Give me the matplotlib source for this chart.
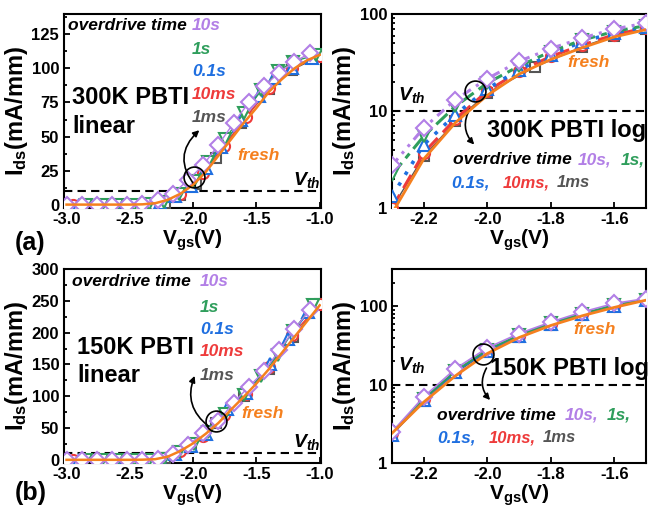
import matplotlib
matplotlib.use("Agg")
import matplotlib.pyplot as plt
from matplotlib.ticker import MultipleLocator, FixedLocator, NullFormatter, LogLocator

plt.rcParams['font.family'] = ['Liberation Sans', 'DejaVu Sans']
plt.rcParams['font.weight'] = 'bold'
plt.rcParams['mathtext.default'] = 'regular'
plt.rcParams['axes.unicode_minus'] = False

W, H = 659, 513

# ---- (a) 300K linear ----
a_lin_10s_x = [-3.0, -2.88, -2.76, -2.64, -2.52, -2.40, -2.28, -2.16, -2.04, -1.92, -1.80, -1.68, -1.56, -1.44, -1.32, -1.20, -1.08]
a_lin_10s_y = [0, 0, 0, 0, 0, 0.5, 3.5, 8, 18, 29, 44, 60, 75, 87, 97, 105, 111]
a_lin_1s_x = [-2.85, -2.72, -2.60, -2.47, -2.35, -2.23, -2.11, -1.99, -1.88, -1.75, -1.60, -1.46, -1.33, -1.21, -1.03]
a_lin_1s_y = [0, 0, 0, 0, 0.3, 2, 8, 17, 31, 48, 67, 84, 98, 105, 110]
a_lin_01s_x = [-2.90, -2.75, -2.62, -2.50, -2.38, -2.26, -2.14, -2.02, -1.90, -1.78, -1.62, -1.48, -1.36, -1.22, -1.06]
a_lin_01s_y = [0, 0, 0, 0, 0.2, 1.5, 6, 14, 27, 42, 62, 80, 93, 100, 108]
a_lin_10ms_x = [-2.95, -2.70, -2.45, -2.32, -2.10, -1.92, -1.76, -1.58, -1.40, -1.22, -1.00]
a_lin_10ms_y = [0, 0, 0, 0.5, 8, 23, 43, 64, 86, 100, 109]
a_lin_1ms_x = [-2.22, -2.10, -1.98, -1.82, -1.62, -1.40, -1.22, -1.00]
a_lin_1ms_y = [1, 7, 15, 34, 60, 85, 99, 109]
a_lin_fresh_x = [-3.0, -2.5, -2.4, -2.3, -2.2, -2.1, -2.0, -1.9, -1.8, -1.7, -1.6, -1.5, -1.4, -1.3, -1.2, -1.1, -1.0]
a_lin_fresh_y = [0, 0, 0.2, 1, 3.5, 8, 14.5, 24, 36, 48, 60, 71, 83, 92, 100, 106, 110]

# ---- (a) 300K log ----
a_log_x = [-2.3, -2.2, -2.1, -2.0, -1.9, -1.8, -1.7, -1.6, -1.5]
a_log_10s = [2.75, 6.7, 13.1, 21.5, 32.5, 44, 56.6, 70, 80.7]
a_log_1s = [2.2, 5.5, 11.2, 19.4, 29, 41, 54, 66, 76]
a_log_01s = [1.32, 4.5, 9.2, 16.9, 26.7, 38, 52, 64, 73.5]
a_log_10ms = [1.0, 3.7, 8.3, 16, 25.6, 36.5, 48, 61, 72]
a_log_1ms_x = [-2.3, -2.2, -2.1, -2.0, -1.85, -1.7, -1.6, -1.5]
a_log_1ms = [1.0, 3.4, 7.8, 15.3, 28.4, 46, 60, 70]
a_log_fresh_x = [-2.29, -2.2, -2.1, -2.0, -1.9, -1.8, -1.7, -1.6, -1.5]
a_log_fresh = [1.0, 3.2, 7.6, 14.5, 24, 34, 45, 58, 69]

# ---- (b) 150K linear ----
b_lin_10s_x = [-3.0, -2.88, -2.76, -2.64, -2.52, -2.40, -2.28, -2.16, -2.04, -1.92, -1.80, -1.68, -1.56, -1.44, -1.32, -1.20, -1.08]
b_lin_10s_y = [0, 0, 0, 0, 0, 0, 2, 9, 23, 42, 61, 90, 115, 139, 172, 205, 236]
b_lin_1s_x = [-2.85, -2.72, -2.60, -2.47, -2.35, -2.23, -2.11, -1.99, -1.88, -1.75, -1.60, -1.46, -1.33, -1.21, -1.05]
b_lin_1s_y = [0, 0, 0, 0, 0, 2, 12, 25, 44, 72, 102, 132, 165, 203, 244]
b_lin_01s_x = [-2.90, -2.75, -2.62, -2.50, -2.38, -2.26, -2.14, -2.02, -1.90, -1.73, -1.58, -1.39, -1.25, -1.09]
b_lin_01s_y = [0, 0, 0, 0, 0, 1.5, 9, 22, 41, 80, 105, 150, 190, 232]
b_lin_10ms_x = [-2.95, -2.70, -2.45, -2.32, -2.10, -1.92, -1.76, -1.58, -1.40, -1.22, -1.00]
b_lin_10ms_y = [0, 0, 0, 0.5, 14, 38, 70, 104, 146, 196, 245]
b_lin_1ms_x = [-2.22, -2.02, -1.82, -1.60, -1.40, -1.21, -1.00]
b_lin_1ms_y = [3, 23, 58, 100, 142, 193, 245]
b_lin_fresh_x = [-3.0, -2.5, -2.4, -2.3, -2.2, -2.1, -2.0, -1.9, -1.8, -1.7, -1.6, -1.5, -1.4, -1.3, -1.2, -1.1, -1.0]
b_lin_fresh_y = [0, 0, 0.2, 1, 5, 14, 26, 41, 58, 79, 99, 120, 143, 168, 193, 218, 243]

# ---- (b) 150K log ----
b_log_x = [-2.3, -2.2, -2.1, -2.0, -1.9, -1.8, -1.7, -1.6, -1.5]
b_log_10s = [2.5, 7, 16, 29.5, 45, 63, 85, 109, 126]
b_log_1s = [2.4, 6.6, 15, 28, 43, 61, 81, 104, 122]
b_log_01s = [2.3, 6.3, 14.5, 27, 42, 59, 79, 101, 119]
b_log_10ms = [2.4, 6.5, 14.8, 27.5, 42, 60, 80, 102, 121]
b_log_1ms = [2.3, 6.2, 14.2, 26.5, 41, 58, 78, 100, 119]
b_log_fresh = [2.4, 6.0, 13, 25, 40, 57, 76, 97, 120]

vth = 10

c_10s = '#b27fe6'
c_1s = '#2f9e5c'
c_01s = '#1f6fe0'
c_10ms = '#ee3b3b'
c_1ms = '#555555'
c_fresh = '#f5801e'

mk = {'10s': ('D', 8), '1s': ('v', 9), '01s': ('^', 9), '10ms': ('o', 8), '1ms': ('s', 7)}
cols = {'10s': c_10s, '1s': c_1s, '01s': c_01s, '10ms': c_10ms, '1ms': c_1ms}
log_ls = {'10s': (0, (3, 2, 1, 2, 1, 2)), '1s': (0, (5, 2, 2, 2)), '01s': (0, (1, 2.5)),
          '10ms': (0, (5, 2.5)), '1ms': '-'}

fig = plt.figure(figsize=(W / 100, H / 100), dpi=100)


def px_axes(l, t, r, b):
    return fig.add_axes([l / W, 1 - b / H, (r - l) / W, (b - t) / H])


def ftext(x, y, s, color='black', size=12.5, style='italic', **kw):
    fig.text(x / W, 1 - y / H, s, color=color, fontsize=size, fontstyle=style,
             fontweight='bold', ha='left', va='center', **kw)


def style_axes(ax):
    for sp in ax.spines.values():
        sp.set_linewidth(1.5)
    ax.tick_params(which='both', direction='in', labelsize=12, width=1.3)
    ax.tick_params(which='major', length=4)
    ax.tick_params(which='minor', length=2.5)
    ax.tick_params(axis='x', pad=3)
    ax.set_ylabel('I$_{ds}$(mA/mm)', fontsize=17, fontweight='bold', labelpad=1)
    ax.set_xlabel('V$_{gs}$(V)', fontsize=15, fontweight='bold', labelpad=0)


def plot_series(ax, x, y, key, ls='-', lw=1.0):
    m, s = mk[key]
    ax.plot(x, y, ls=ls, lw=lw, color=cols[key], marker=m, ms=s, mfc='white',
            mec=cols[key], mew=1.5, zorder=3)


# (a) linear
ax1 = px_axes(64, 14, 321, 208)
plot_series(ax1, a_lin_1ms_x, a_lin_1ms_y, '1ms')
plot_series(ax1, a_lin_10ms_x, a_lin_10ms_y, '10ms')
plot_series(ax1, a_lin_01s_x, a_lin_01s_y, '01s')
plot_series(ax1, a_lin_1s_x, a_lin_1s_y, '1s')
plot_series(ax1, a_lin_10s_x, a_lin_10s_y, '10s')
ax1.plot(a_lin_fresh_x, a_lin_fresh_y, color=c_fresh, lw=1.8, zorder=4)
ax1.axhline(vth, color='black', ls=(0, (4, 2.5)), lw=1.5)
ax1.set_xlim(-3.02, -0.99)
ax1.set_ylim(-2.5, 140)
ax1.yaxis.set_major_locator(FixedLocator([0, 25, 50, 75, 100, 125]))
ax1.yaxis.set_minor_locator(MultipleLocator(12.5))
ax1.set_xticks([-3.0, -2.5, -2.0, -1.5, -1.0])
ax1.set_xticklabels(['-3.0', '-2.5', '-2.0', '-1.5', '-1.0'])
style_axes(ax1)
ax1.plot([-1.993], [20], 'o', mfc='none', mec='black', ms=15, mew=1.2, zorder=5)
ax1.annotate('', xy=(-1.935, 56), xytext=(-1.968, 12),
             arrowprops=dict(arrowstyle='-|>', color='black', lw=1.2,
                             connectionstyle='arc3,rad=-0.5', mutation_scale=9))

# (a) log
ax2 = px_axes(392, 14, 646, 208)
plot_series(ax2, a_log_1ms_x, a_log_1ms, '1ms', ls='-', lw=1.0)
plot_series(ax2, a_log_x, a_log_10ms, '10ms', ls=log_ls['10ms'], lw=2.2)
plot_series(ax2, a_log_x, a_log_01s, '01s', ls=log_ls['01s'], lw=2.6)
plot_series(ax2, a_log_x, a_log_1s, '1s', ls=log_ls['1s'], lw=2.2)
plot_series(ax2, a_log_x, a_log_10s, '10s', ls=log_ls['10s'], lw=2.2)
ax2.plot(a_log_fresh_x, a_log_fresh, color=c_fresh, lw=2.0, zorder=4)
ax2.axhline(vth, color='black', ls=(0, (4, 2.5)), lw=1.5)
ax2.set_yscale('log')
ax2.set_xlim(-2.3, -1.5)
ax2.set_ylim(1, 100)
ax2.set_yticks([1, 10, 100])
ax2.set_yticklabels(['1', '10', '100'])
ax2.yaxis.set_minor_locator(LogLocator(base=10, subs=range(2, 10)))
ax2.yaxis.set_minor_formatter(NullFormatter())
ax2.set_xticks([-2.2, -2.0, -1.8, -1.6])
ax2.set_xticklabels(['-2.2', '-2.0', '-1.8', '-1.6'])
style_axes(ax2)
ax2.plot([-2.04], [16], 'o', mfc='none', mec='black', ms=15, mew=1.2, zorder=5)
ax2.annotate('', xy=(-2.035, 4.3), xytext=(-2.05, 11.2),
             arrowprops=dict(arrowstyle='-|>', color='black', lw=1.2,
                             connectionstyle='arc3,rad=0.4', mutation_scale=9))

# (b) linear
ax3 = px_axes(64, 269, 321, 463)
plot_series(ax3, b_lin_1ms_x, b_lin_1ms_y, '1ms')
plot_series(ax3, b_lin_10ms_x, b_lin_10ms_y, '10ms')
plot_series(ax3, b_lin_01s_x, b_lin_01s_y, '01s')
plot_series(ax3, b_lin_1s_x, b_lin_1s_y, '1s')
plot_series(ax3, b_lin_10s_x, b_lin_10s_y, '10s')
ax3.plot(b_lin_fresh_x, b_lin_fresh_y, color=c_fresh, lw=1.8, zorder=4)
ax3.axhline(vth, color='black', ls=(0, (4, 2.5)), lw=1.5)
ax3.set_xlim(-3.02, -0.99)
ax3.set_ylim(-5, 300)
ax3.set_yticks([0, 50, 100, 150, 200, 250, 300])
ax3.yaxis.set_minor_locator(MultipleLocator(25))
ax3.set_xticks([-3.0, -2.5, -2.0, -1.5, -1.0])
ax3.set_xticklabels(['-3.0', '-2.5', '-2.0', '-1.5', '-1.0'])
style_axes(ax3)
ax3.plot([-1.816], [61], 'o', mfc='none', mec='black', ms=15, mew=1.2, zorder=5)
ax3.annotate('', xy=(-1.98, 136), xytext=(-1.86, 50),
             arrowprops=dict(arrowstyle='-|>', color='black', lw=1.2,
                             connectionstyle='arc3,rad=-0.4', mutation_scale=9))

# (b) log
ax4 = px_axes(392, 269, 646, 463)
plot_series(ax4, b_log_x, b_log_1ms, '1ms', ls='-', lw=1.0)
plot_series(ax4, b_log_x, b_log_10ms, '10ms', ls='-', lw=1.2)
plot_series(ax4, b_log_x, b_log_01s, '01s', ls='-', lw=1.2)
plot_series(ax4, b_log_x, b_log_1s, '1s', ls='-', lw=1.5)
plot_series(ax4, b_log_x, b_log_10s, '10s', ls='-', lw=1.2)
ax4.plot(b_log_x, b_log_fresh, color=c_fresh, lw=2.0, zorder=4)
ax4.axhline(vth, color='black', ls=(0, (4, 2.5)), lw=1.5)
ax4.set_yscale('log')
ax4.set_xlim(-2.3, -1.5)
ax4.set_ylim(1, 300)
ax4.set_yticks([1, 10, 100])
ax4.set_yticklabels(['1', '10', '100'])
ax4.yaxis.set_minor_locator(LogLocator(base=10, subs=range(2, 10)))
ax4.yaxis.set_minor_formatter(NullFormatter())
ax4.set_xticks([-2.2, -2.0, -1.8, -1.6])
ax4.set_xticklabels(['-2.2', '-2.0', '-1.8', '-1.6'])
style_axes(ax4)
ax4.plot([-2.014], [25], 'o', mfc='none', mec='black', ms=15, mew=1.2, zorder=5)
ax4.annotate('', xy=(-1.985, 6), xytext=(-1.998, 17.5),
             arrowprops=dict(arrowstyle='-|>', color='black', lw=1.2,
                             connectionstyle='arc3,rad=0.4', mutation_scale=9))

# ---- annotations: (a) linear ----
ftext(68, 25, 'overdrive time')
ftext(192, 25, '10s', c_10s)
ftext(192, 49, '1s', c_1s)
ftext(192, 72, '0.1s', c_01s)
ftext(192, 95, '10ms', c_10ms)
ftext(192, 118, '1ms', c_1ms)
ftext(72, 98, '300K PBTI', size=17, style='normal')
ftext(72, 127, 'linear', size=17, style='normal')
ftext(237, 156, 'fresh', c_fresh)
ftext(293, 180, '$V_{th}$', size=14)

# ---- annotations: (a) log ----
ftext(398, 95, '$V_{th}$', size=14)
ftext(487, 130, '300K PBTI log', size=17, style='normal')
ftext(453, 160, 'overdrive time')
ftext(578, 160, '10s,', c_10s)
ftext(621, 160, '1s,', c_1s)
ftext(451, 183, '0.1s,', c_01s)
ftext(503, 183, '10ms,', c_10ms, size=12)
ftext(557, 183, '1ms', c_1ms, size=12)
ftext(567, 63, 'fresh', c_fresh)

# ---- annotations: (b) linear ----
ftext(72, 282, 'overdrive time')
ftext(200, 282, '10s', c_10s)
ftext(200, 307, '1s', c_1s)
ftext(200, 329, '0.1s', c_01s)
ftext(200, 352, '10ms', c_10ms)
ftext(200, 375, '1ms', c_1ms)
ftext(77, 347, '150K PBTI', size=17, style='normal')
ftext(77, 375, 'linear', size=17, style='normal')
ftext(241, 414, 'fresh', c_fresh)
ftext(293, 442, '$V_{th}$', size=14)

# ---- annotations: (b) log ----
ftext(398, 365, '$V_{th}$', size=14)
ftext(490, 368, '150K PBTI log', size=17, style='normal')
ftext(437, 415, 'overdrive time')
ftext(565, 415, '10s,', c_10s)
ftext(607, 415, '1s,', c_1s)
ftext(437, 438, '0.1s,', c_01s)
ftext(489, 438, '10ms,', c_10ms, size=12)
ftext(543, 438, '1ms', c_1ms, size=12)
ftext(573, 330, 'fresh', c_fresh)

ftext(15, 243, '(a)', size=18, style='normal')
ftext(15, 493, '(b)', size=18, style='normal')

fig.savefig('out.png', dpi=100)
